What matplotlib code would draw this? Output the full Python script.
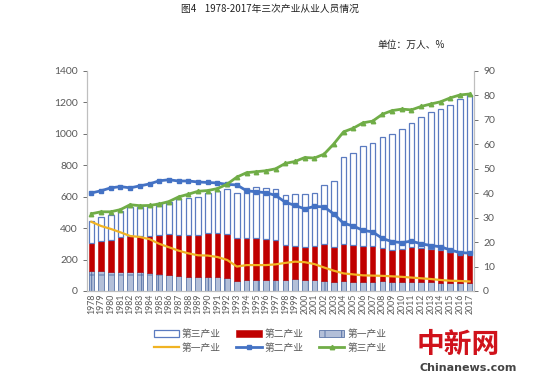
import matplotlib
matplotlib.use("Agg")
import matplotlib.pyplot as plt
import numpy as np

years = [str(y) for y in range(1978, 2018)]

# employment (万人), stacked bars
primary_emp = [125.7, 125.8, 122.9, 122.9, 120.8, 118.7, 114.5, 107.7, 101.9, 96.4,
               90.9, 87.6, 90.2, 88.8, 82.3, 62.6, 69.3, 70.0, 69.3, 70.6,
               70.3, 73.9, 73.0, 68.9, 64.8, 58.1, 61.5, 59.7, 58.9, 59.4,
               60.8, 59.9, 59.9, 58.9, 57.6, 55.9, 52.1, 49.8, 50.0, 48.6]
secondary_emp = [178.1, 193.9, 204.2, 218.6, 226.6, 230.9, 236.5, 251.7, 258.9, 262.8,
                 265.5, 267.6, 276.2, 282.4, 282.5, 271.7, 268.1, 268.0, 262.9, 253.4,
                 221.8, 215.6, 208.0, 216.6, 232.2, 220.5, 236.6, 233.5, 228.2, 228.2,
                 210.9, 201.6, 204.3, 218.3, 213.7, 212.2, 209.4, 199.2, 191.5, 193.3]
tertiary_emp = [140.3, 153.3, 156.9, 170.5, 189.6, 187.4, 189.0, 198.6, 208.2, 224.8,
                233.6, 244.8, 255.6, 267.8, 283.2, 291.7, 316.6, 322.0, 321.8, 324.0,
                318.9, 326.5, 338.0, 340.5, 378.0, 421.4, 555.9, 584.8, 632.9, 655.4,
                709.3, 736.5, 767.8, 792.8, 835.7, 872.9, 895.5, 937.0, 978.5, 1005.1]

# shares (%)
primary_pct = [28.3, 26.6, 25.4, 24.0, 22.5, 22.1, 21.2, 19.3, 17.9, 16.5,
               15.4, 14.6, 14.5, 13.9, 12.7, 10.0, 10.6, 10.6, 10.6, 10.9,
               11.5, 12.0, 11.8, 11.0, 9.6, 8.3, 7.2, 6.8, 6.4, 6.3,
               6.2, 6.0, 5.8, 5.5, 5.2, 4.9, 4.5, 4.2, 4.1, 3.9]
secondary_pct = [40.1, 41.0, 42.2, 42.7, 42.2, 43.0, 43.8, 45.1, 45.5, 45.0,
                 45.0, 44.6, 44.4, 44.2, 43.6, 43.4, 41.0, 40.6, 40.2, 39.1,
                 36.3, 35.0, 33.6, 34.6, 34.4, 31.5, 27.7, 26.6, 24.8, 24.2,
                 21.5, 20.2, 19.8, 20.4, 19.3, 18.6, 18.1, 16.8, 15.7, 15.5]
tertiary_pct = [31.6, 32.4, 32.4, 33.3, 35.3, 34.9, 35.0, 35.6, 36.6, 38.5,
                39.6, 40.8, 41.1, 41.9, 43.7, 46.6, 48.4, 48.8, 49.2, 50.0,
                52.2, 53.0, 54.6, 54.4, 56.0, 60.2, 65.1, 66.6, 68.8, 69.5,
                72.3, 73.8, 74.4, 74.1, 75.5, 76.5, 77.4, 79.0, 80.2, 80.6]

title = "图4    1978-2017年三次产业从业人员情况"
unit_label = "单位：万人、%"

plt.rcParams['font.family'] = ['Noto Sans CJK SC', 'DejaVu Sans']
plt.rcParams['hatch.linewidth'] = 0.7

fig = plt.figure(figsize=(5.4, 3.77), dpi=100)
ax = fig.add_axes([87/540, 1-291/377, (474-87)/540, (291-71)/377])

x = np.arange(len(years))
w = 0.58
grey = '#595959'
blue = '#4472C4'

p = np.array(primary_emp)
s = np.array(secondary_emp)
t = np.array(tertiary_emp)

b_p = ax.bar(x, p, w, color='#B3BFD8', edgecolor='#5A74A8', hatch='+', linewidth=0.6,
             label='第一产业', zorder=2)
b_s = ax.bar(x, s, w, bottom=p, color='#C00000', edgecolor='#C00000', linewidth=0.4,
             label='第二产业', zorder=2)
b_t = ax.bar(x, t, w, bottom=p + s, color='white', edgecolor='#5B7BC0', linewidth=0.9,
             label='第三产业', zorder=2)

ax.set_ylim(0, 1400)
ax.set_yticks(range(0, 1401, 200))
ax.set_xlim(-0.45, len(years) - 0.55)
ax.set_xticks(x)
ax.set_xticklabels(years, rotation=90, fontsize=6.3, color=grey, family='Lato')
for lab in ax.get_yticklabels():
    lab.set_family('Lato')
ax.tick_params(axis='y', labelsize=7.5, colors=grey, length=3, width=0.6)
ax.tick_params(axis='x', length=0, pad=2)

ax2 = ax.twinx()
l_p, = ax2.plot(x, primary_pct, color='#F0B323', lw=1.6, label='第一产业', zorder=3)
l_s, = ax2.plot(x, secondary_pct, color=blue, lw=2.0, marker='s', ms=3.5,
                label='第二产业', zorder=3)
l_t, = ax2.plot(x, tertiary_pct, color='#70AD47', lw=2.0, marker='^', ms=3.2,
                label='第三产业', zorder=3)
ax2.set_ylim(0, 90)
ax2.set_yticks(range(0, 91, 10))
for lab in ax2.get_yticklabels():
    lab.set_family('Lato')
ax2.tick_params(axis='y', labelsize=7.5, colors=grey, length=3, width=0.6)

for a in (ax, ax2):
    a.spines['top'].set_visible(False)
    for k in ('left', 'right', 'bottom'):
        a.spines[k].set_color('#BFBFBF')
        a.spines[k].set_linewidth(0.8)

handles = [b_t, l_p, b_s, l_s, b_p, l_t]
labels = ['第三产业', '第一产业', '第二产业', '第二产业', '第一产业', '第三产业']
fig.legend(handles, labels, ncol=3, loc='center', bbox_to_anchor=(0.5, 1-341/377),
           frameon=False, fontsize=7, labelcolor=grey, handlelength=2.6,
           columnspacing=1.6, handletextpad=0.3, labelspacing=0.35)

fig.text(0.5, 1-9/377, title, ha='center', va='center', fontsize=7, color='#222222')
fig.text(445/540, 1-45/377, unit_label, ha='right', va='center', fontsize=7, color='#222222')

fig.text(458/540, 1-345/377, '中新网', ha='center', va='center', fontsize=20,
         color='#D0121B', fontweight='bold', style='italic')
fig.text(468/540, 1-368/377, 'Chinanews.com', ha='center', va='center', fontsize=8,
         color='#444444', fontweight='bold', family='DejaVu Sans')

fig.savefig('out.png', dpi=100)
